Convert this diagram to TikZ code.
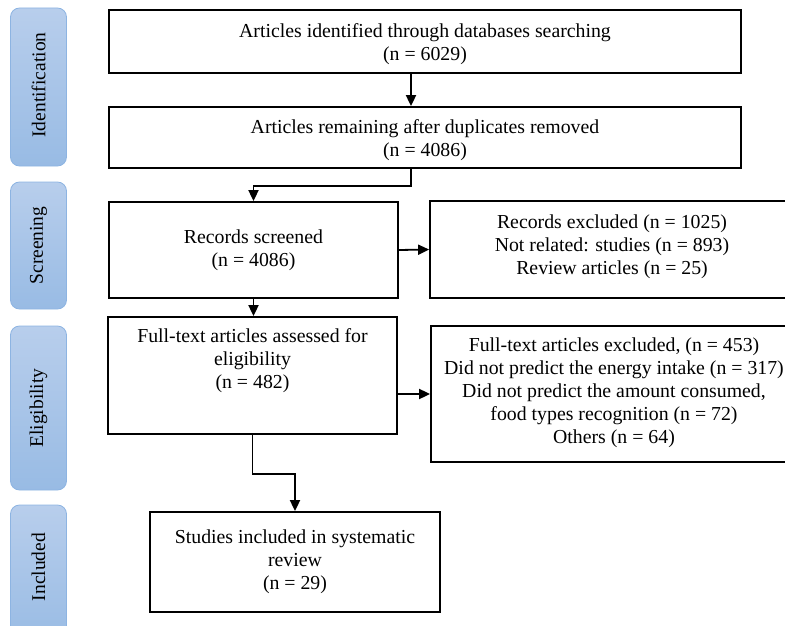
\documentclass[tikz,border=0pt]{standalone}
\usepackage{fontspec}
\setmainfont{Liberation Serif}
\usetikzlibrary{arrows.meta,calc}
\definecolor{sidetop}{RGB}{184,206,236}
\definecolor{sidebot}{RGB}{152,187,228}
\definecolor{sideline}{RGB}{141,180,226}
\begin{document}
\begin{tikzpicture}[x=1pt,y=-1pt,
  box/.style={draw,line width=1.8pt,rectangle,align=center,inner sep=0pt,
    font=\fontsize{19.8}{23}\selectfont},
  txt/.style={align=center,inner sep=0pt,font=\fontsize{19.8}{23}\selectfont},
  side/.style={draw=sideline,line width=0.8pt,rounded corners=9pt,
    top color=sidetop,bottom color=sidebot,minimum width=56pt,inner sep=0pt},
  sidetxt/.style={rotate=90,font=\fontsize{19.5}{21}\selectfont},
  arr/.style={line width=1.8pt,-{Triangle[length=11pt,width=10pt]}}]
\useasboundingbox (0,0) rectangle (785,626);
\clip (0,0) rectangle (785,626);
% side labels
\node[side,minimum height=158pt] (s1) at (38.5,87) {};
\node[sidetxt] (t1) at (38.5,85) {Identification};
\node[side,minimum height=127pt] (s2) at (38.5,245.5) {};
\node[sidetxt] (t2) at (s2.center) {Screening};
\node[side,minimum height=164pt] (s3) at (38.5,408) {};
\node[sidetxt] (t3) at (s3.center) {Eligibility};
\node[side,minimum height=140pt] (s4) at (38.5,575) {};
\node[sidetxt] (t4) at (38.5,567) {Included};
% boxes
\node[box,minimum width=632pt,minimum height=63pt] (b1) at (425,41.5) {};
\node[txt] (b1t) at (425,44)
  {Articles identified through databases searching\\(n = 6029)};
\node[box,minimum width=632pt,minimum height=61pt] (b2) at (425,137.5) {};
\node[txt] (b2t) at (425,140.5)
  {Articles remaining after duplicates removed\\(n = 4086)};
\node[box,minimum width=289pt,minimum height=96pt] (b3) at (253.5,250)
  {Records screened\\(n = 4086)};
\node[box,minimum width=365pt,minimum height=97pt] (b4) at (612.5,249.5) {};
\node[txt] (b4t) at (612,247)
  {Records excluded (n = 1025)\\Not related: studies (n = 893)\\Review articles (n = 25)};
\node[box,minimum width=289pt,minimum height=117pt] (b5) at (252.5,375.5) {};
\node[txt] (b5t) at (252.5,361)
  {Full-text articles assessed for\\eligibility\\(n = 482)};
\node[box,minimum width=366pt,minimum height=136pt] (b6) at (614,394) {};
\node[txt] (b6t) at (614,392.5)
  {Full-text articles excluded, (n = 453)\\Did not predict the energy intake (n = 317)\\Did not predict the amount consumed,\\food types recognition (n = 72)\\Others (n = 64)};
\node[box,minimum width=290pt,minimum height=100pt] (b7) at (295,562)
  {Studies included in systematic\\review\\(n = 29)};
% connectors
\coordinate (cx) at (411,0);
\draw[arr] (b1.south -| cx) -- (b2.north -| cx);
\draw[arr] (b2.south -| cx) -- ++(0,17) -| (b3.north);
\draw[arr] (b3.east) -- (b4.west);
\draw[arr] (b3.south) -- (b3.south |- b5.north);
\draw[arr] (b5.east |- b6.west) -- (b6.west);
\draw[arr] (b5.south) -- ++(0,39) -| (b7.north);
\end{tikzpicture}
\end{document}
